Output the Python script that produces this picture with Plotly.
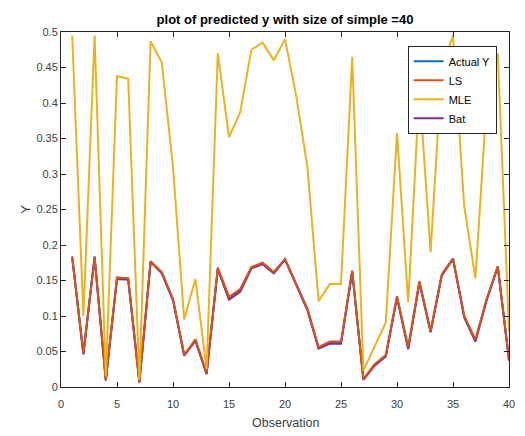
import plotly.graph_objects as go

obs = list(range(1, 41))
actual_y = [0.184, 0.047, 0.184, 0.010, 0.154, 0.153, 0.007, 0.177, 0.161, 0.123,
            0.045, 0.066, 0.019, 0.167, 0.124, 0.136, 0.168, 0.174, 0.161, 0.180,
            0.145, 0.110, 0.055, 0.062, 0.062, 0.163, 0.011, 0.031, 0.044, 0.127,
            0.054, 0.148, 0.078, 0.158, 0.181, 0.100, 0.065, 0.123, 0.170, 0.038]
ls = [0.183, 0.048, 0.183, 0.010, 0.154, 0.153, 0.007, 0.177, 0.162, 0.124,
      0.045, 0.067, 0.020, 0.168, 0.127, 0.138, 0.169, 0.175, 0.162, 0.180,
      0.145, 0.110, 0.056, 0.064, 0.064, 0.164, 0.011, 0.032, 0.045, 0.128,
      0.056, 0.149, 0.079, 0.159, 0.181, 0.100, 0.067, 0.124, 0.170, 0.039]
mle = [0.495, 0.100, 0.495, 0.015, 0.438, 0.434, 0.010, 0.487, 0.457, 0.310,
       0.095, 0.152, 0.025, 0.470, 0.352, 0.387, 0.475, 0.485, 0.460, 0.490,
       0.410, 0.310, 0.121, 0.145, 0.145, 0.465, 0.023, 0.058, 0.091, 0.358,
       0.119, 0.420, 0.190, 0.450, 0.495, 0.255, 0.153, 0.400, 0.470, 0.079]
bat = [0.182, 0.046, 0.182, 0.009, 0.152, 0.151, 0.006, 0.176, 0.160, 0.122,
       0.044, 0.065, 0.018, 0.166, 0.123, 0.134, 0.167, 0.173, 0.160, 0.179,
       0.144, 0.108, 0.054, 0.061, 0.061, 0.162, 0.010, 0.030, 0.043, 0.126,
       0.053, 0.147, 0.077, 0.157, 0.180, 0.098, 0.064, 0.122, 0.169, 0.037]

x_ticks = list(range(0, 41, 5))
y_ticks = [0, 0.05, 0.1, 0.15, 0.2, 0.25, 0.3, 0.35, 0.4, 0.45, 0.5]
y_tick_labels = ["0", "0.05", "0.1", "0.15", "0.2", "0.25", "0.3", "0.35", "0.4", "0.45", "0.5"]

FONT = "Liberation Sans, Arial"

fig = go.Figure()
fig.add_trace(go.Scatter(x=obs, y=actual_y, mode="lines", name="Actual Y",
                         line=dict(color="#0072BD", width=2)))
fig.add_trace(go.Scatter(x=obs, y=bat, mode="lines", name="Bat", showlegend=False,
                         line=dict(color="#7E2F8E", width=2)))
fig.add_trace(go.Scatter(x=obs, y=ls, mode="lines", name="LS",
                         line=dict(color="#D95319", width=2)))
fig.add_trace(go.Scatter(x=obs, y=mle, mode="lines", name="MLE",
                         line=dict(color="#EDB120", width=2)))
# legend entry for Bat (keeps legend order Actual Y, LS, MLE, Bat)
fig.add_trace(go.Scatter(x=[None], y=[None], mode="lines", name="Bat",
                         line=dict(color="#7E2F8E", width=2)))

axis_common = dict(showline=True, linecolor="#262626", linewidth=1, mirror="ticks",
                   ticks="inside", ticklen=5, tickcolor="#262626", showgrid=False,
                   zeroline=False, tickfont=dict(family=FONT, size=11, color="#404040"))

fig.update_layout(
    width=525, height=436,
    margin=dict(l=61, r=10, t=32, b=49),
    paper_bgcolor="white", plot_bgcolor="white",
    title=dict(text="<b>plot of predicted y with size of simple =40</b>",
               x=0.5, xanchor="center", xref="paper", y=0.955, yanchor="middle",
               font=dict(family=FONT, size=13, color="black")),
    xaxis=dict(range=[0, 40], tickvals=x_ticks, ticklabelstandoff=7, **axis_common),
    yaxis=dict(range=[0, 0.5], tickvals=y_ticks, ticktext=y_tick_labels, **axis_common),
    legend=dict(x=0.9725, y=0.961, xanchor="right", yanchor="top",
                bgcolor="white", bordercolor="#262626", borderwidth=1,
                font=dict(family=FONT, size=11, color="black"),
                tracegroupgap=0, itemwidth=30),
    showlegend=True,
    annotations=[
        dict(text="Observation", xref="paper", yref="paper", x=0.5, y=-0.101,
             xanchor="center", yanchor="middle", showarrow=False,
             font=dict(family=FONT, size=12.5, color="#404040")),
        dict(text="Y", xref="paper", yref="paper", x=-0.08, y=0.5,
             xanchor="center", yanchor="middle", showarrow=False, textangle=-90,
             font=dict(family=FONT, size=13, color="#404040")),
    ],
)

fig.write_html("out.html")
